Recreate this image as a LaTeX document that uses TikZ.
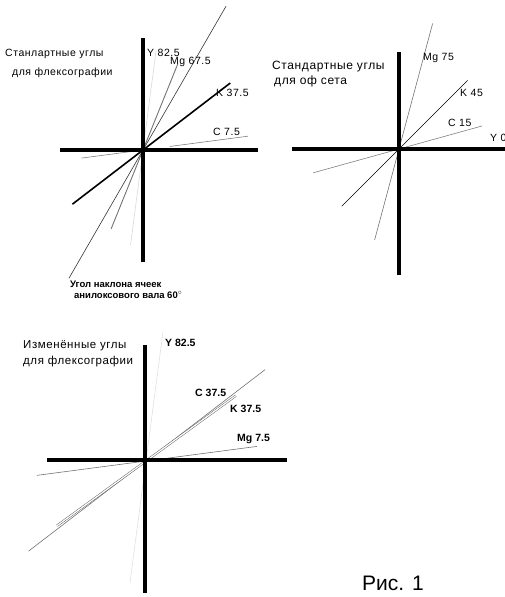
\documentclass[tikz,border=0pt]{standalone}
\usepackage{fontspec}
\setmainfont{Liberation Sans}
\newfontfamily\spaced[LetterSpace=5]{Liberation Sans}
\usetikzlibrary{positioning,calc}

\tikzset{
    axis/.style={line width=3.6pt},
    title/.style={anchor=west, inner sep=0pt, font=\spaced\fontsize{10.5}{12}\selectfont},
    lbl/.style={anchor=west, inner sep=0pt, font=\spaced\fontsize{10.5}{11}\selectfont},
    blbl/.style={anchor=west, inner sep=0pt, font=\bfseries\fontsize{10.5}{11}\selectfont},
    note/.style={anchor=west, inner sep=0pt, font=\bfseries\fontsize{9.5}{10}\selectfont},
    thin/.style={line width=0.6pt}
}

\begin{document}
\begin{tikzpicture}[x=1pt, y=-1pt]
    \useasboundingbox (0,0) rectangle (505,597);
    \clip (0,0) rectangle (505,597);

    % Standard angles for flexography
    \coordinate (o1) at (143,150);
    \draw[thin, black!80] ($(o1)+(60:166pt)$) -- ($(o1)+(240:148pt)$);
    \draw[thin, black!15] ($(o1)+(82.5:101pt)$) -- ($(o1)+(262.5:96pt)$);
    \draw[thin, black!55, line width=0.9pt] ($(o1)+(68:93pt)$) -- ($(o1)+(248:85pt)$);
    \draw[black!50, thin] ($(o1)+(7.5:27pt)$) -- ($(o1)+(7.5:106pt)$);
    \draw[black!50, thin] ($(o1)+(187.5:13pt)$) -- ($(o1)+(187.5:62pt)$);
    \draw[line width=1.6pt] ($(o1)+(37.5:110pt)$) -- ($(o1)+(217.5:89pt)$);
    \draw[axis] ($(o1)+(180:83pt)$) -- ($(o1)+(0:115pt)$);
    \draw[axis] ($(o1)+(90:112pt)$) -- ($(o1)+(270:112pt)$);

    \node[title] (flexo) at (5,54) {Станлартные углы};
    \node[title] (flexo2) at (12,73) {для флексографии};
    \node[lbl] (y1) at (147,53) {Y 82.5};
    \node[lbl] (mg1) at (170,62) {Mg 67.5};
    \node[lbl] (k1) at (216,93) {K 37.5};
    \node[lbl] (c1) at (213,132) {C 7.5};
    \node[note] (anilox) at (70,284) {Угол наклона ячеек};
    \node[note] (anilox2) at (74,295) {анилоксового вала 60$^\circ$};

    % Standard angles for offset
    \coordinate (o2) at (399,149);
    \draw[thin, black!55] ($(o2)+(75:130pt)$) -- ($(o2)+(255:94pt)$);
    \draw[thin] ($(o2)+(45:97pt)$) -- ($(o2)+(225:81pt)$);
    \draw[thin, black!50] ($(o2)+(15.5:86pt)$) -- ($(o2)+(195.5:89pt)$);
    \draw[axis] ($(o2)+(180:107pt)$) -- ($(o2)+(0:115pt)$);
    \draw[axis] ($(o2)+(90:97pt)$) -- ($(o2)+(270:126pt)$);

    \node[title, font=\spaced\fontsize{12}{13}\selectfont] (offset) at (272,67) {Стандартные углы};
    \node[title, font=\spaced\fontsize{12}{13}\selectfont] (offset2) at (274,81) {для оф сета};
    \node[lbl] (mg2) at (423,58) {Mg 75};
    \node[lbl] (k2) at (460,93) {K 45};
    \node[lbl] (c2) at (448,123) {C 15};
    \node[lbl] (y2) at (490,138) {Y 0};

    % Changed angles for flexography
    \coordinate (o3) at (145,460);
    \coordinate (c3) at (146,461);
    \draw[thin, black!12] ($(c3)+(82.5:130pt)$) -- ($(c3)+(262.5:123pt)$);
    \draw[thin, black!55] ($(c3)+(37.5:150pt)$) -- ($(c3)+(217.5:148pt)$);
    \draw[black!60, double, double distance=1.2pt, line width=0.5pt] ($(c3)+(36:111pt)$) -- ($(c3)+(216:110pt)$);
    \draw[thin, black!55] ($(c3)+(7.5:112pt)$) -- ($(c3)+(187.5:110pt)$);
    \draw[axis] ($(o3)+(180:98pt)$) -- ($(o3)+(0:142pt)$);
    \draw[axis] ($(o3)+(90:115pt)$) -- ($(o3)+(270:133pt)$);

    \node[title, font=\spaced\fontsize{11.5}{12}\selectfont] (changed) at (23,346) {Изменённые углы};
    \node[title, font=\spaced\fontsize{11.5}{12}\selectfont] (changed2) at (23,362) {для флексографии};
    \node[blbl] (y3) at (165,343) {Y 82.5};
    \node[blbl] (c3l) at (195,393) {C 37.5};
    \node[blbl] (k3) at (230,409) {K 37.5};
    \node[blbl] (mg3) at (237,439) {Mg 7.5};

    % Caption
    \node[anchor=west, inner sep=0pt, font=\fontsize{21}{24}\selectfont] (fig) at (362,583) {Рис. 1};
\end{tikzpicture}
\end{document}
